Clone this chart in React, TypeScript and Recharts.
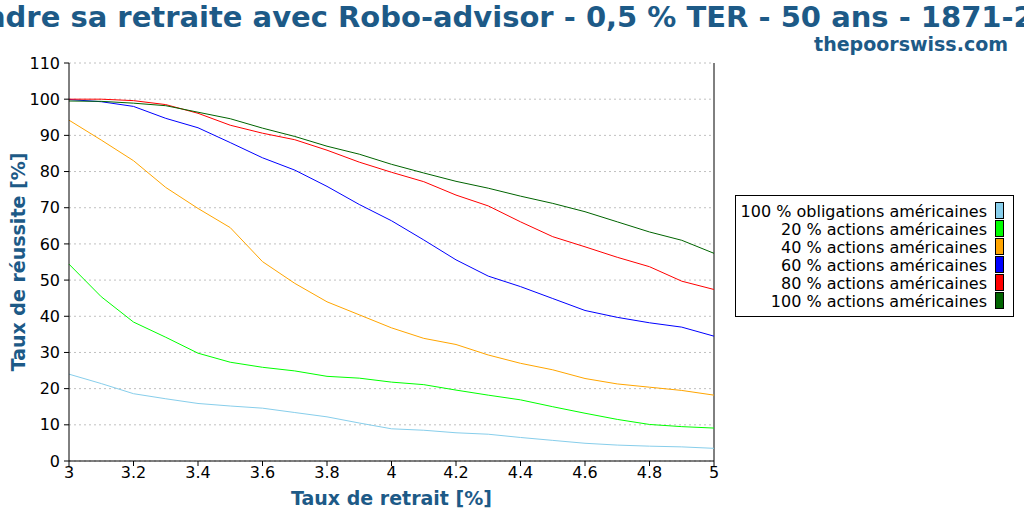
import { LineChart, Line, XAxis, YAxis, CartesianGrid, ReferenceLine } from 'recharts'

// Taux de retrait (%)
const tauxRetrait = [3, 3.1, 3.2, 3.3, 3.4, 3.5, 3.6, 3.7, 3.8, 3.9, 4, 4.1, 4.2, 4.3, 4.4, 4.5, 4.6, 4.7, 4.8, 4.9, 5]

// Taux de réussite (%) par allocation
const obligations100 = [24.0, 21.4, 18.6, 17.2, 15.9, 15.2, 14.6, 13.4, 12.2, 10.5, 8.9, 8.5, 7.8, 7.4, 6.5, 5.7, 4.9, 4.4, 4.1, 3.9, 3.5]
const actions20 = [54.4, 45.4, 38.4, 34.2, 29.8, 27.3, 25.9, 24.9, 23.4, 22.9, 21.8, 21.1, 19.6, 18.2, 16.9, 15.0, 13.2, 11.5, 10.1, 9.5, 9.1]
const actions40 = [94.2, 88.7, 83.0, 75.6, 69.8, 64.5, 55.1, 49.1, 44.0, 40.4, 36.8, 33.9, 32.2, 29.3, 27.0, 25.2, 22.8, 21.3, 20.4, 19.5, 18.2]
const actions60 = [99.9, 99.3, 98.0, 94.7, 92.1, 88.0, 83.8, 80.4, 75.9, 70.9, 66.4, 61.1, 55.6, 51.1, 48.2, 44.9, 41.6, 39.7, 38.2, 37.0, 34.5]
const actions80 = [100, 100, 99.6, 98.5, 96.1, 92.8, 90.6, 88.8, 85.9, 82.6, 79.8, 77.2, 73.5, 70.5, 66.1, 62.0, 59.2, 56.3, 53.7, 49.7, 47.4]
const actions100 = [99.5, 99.4, 98.9, 98.2, 96.4, 94.6, 92.0, 89.7, 87.0, 84.8, 82.0, 79.6, 77.3, 75.4, 73.2, 71.2, 68.9, 66.1, 63.3, 61.0, 57.4]

const xTicks = [3, 3.2, 3.4, 3.6, 3.8, 4, 4.2, 4.4, 4.6, 4.8, 5]
const yTicks = [0, 10, 20, 30, 40, 50, 60, 70, 80, 90, 100, 110]

const series = [
  { key: 'obl100', label: '100 % obligations américaines', color: '#87CEEB', values: obligations100 },
  { key: 'act20', label: '20 % actions américaines', color: '#00FF00', values: actions20 },
  { key: 'act40', label: '40 % actions américaines', color: '#FFA500', values: actions40 },
  { key: 'act60', label: '60 % actions américaines', color: '#0000FF', values: actions60 },
  { key: 'act80', label: '80 % actions américaines', color: '#FF0000', values: actions80 },
  { key: 'act100', label: '100 % actions américaines', color: '#006400', values: actions100 },
]

const data = tauxRetrait.map((x, i) => {
  const row: Record<string, number> = { x }
  series.forEach(s => { row[s.key] = s.values[i] })
  return row
})

const BLEU = '#1d5a87'
const FONT = '"DejaVu Sans", sans-serif'

export default function App() {
  return (
    <div style={{ position: 'absolute', left: 0, top: 0, width: 1024, height: 512, overflow: 'hidden', background: '#fff', fontFamily: FONT }}>
      <LineChart width={1024} height={512} data={data} margin={{ top: 63, right: 310, bottom: 0, left: 0 }} style={{ fontFamily: FONT }}>
        <CartesianGrid vertical={false} stroke="#c0c0c0" strokeDasharray="2 3" />
        <XAxis
          dataKey="x"
          type="number"
          domain={[3, 5]}
          ticks={xTicks}
          height={51}
          tickSize={5}
          tickMargin={1}
          stroke="#000"
          tick={{ fill: '#000', fontSize: 16 }}
          label={{ value: 'Taux de retrait [%]', position: 'insideBottom', offset: 7, fill: BLEU, fontSize: 19, fontWeight: 'bold' }}
        />
        <YAxis
          domain={[0, 110]}
          ticks={yTicks}
          width={69}
          tickSize={5}
          tickMargin={4}
          stroke="#000"
          tick={{ fill: '#000', fontSize: 16 }}
          label={{ value: 'Taux de réussite [%]', angle: -90, position: 'insideLeft', offset: 18, fill: BLEU, fontSize: 19, fontWeight: 'bold', style: { textAnchor: 'middle' } }}
        />
        <ReferenceLine x={5} stroke="#000" />
        {series.map(s => (
          <Line key={s.key} dataKey={s.key} stroke={s.color} strokeWidth={1} dot={false} type="linear" isAnimationActive={false} />
        ))}
      </LineChart>
      <svg width={1024} height={512} style={{ position: 'absolute', left: 0, top: 0, pointerEvents: 'none' }}>
        <text x={512} y={27} textAnchor="middle" fill={BLEU} fontSize={29} fontWeight="bold" fontFamily={FONT}>
          Prendre sa retraite avec Robo-advisor - 0,5 % TER - 50 ans - 1871-2020
        </text>
        <text x={1008} y={51} textAnchor="end" fill={BLEU} fontSize={19} fontWeight="bold" fontFamily={FONT}>
          thepoorswiss.com
        </text>
        <rect x={735.5} y={195.5} width={278} height={121} fill="#fff" stroke="#000" />
        {series.map((s, i) => (
          <g key={s.key}>
            <text x={987} y={217 + 18 * i} textAnchor="end" fill="#000" fontSize={16} fontFamily={FONT}>{s.label}</text>
            <rect x={995.5} y={202.5 + 18 * i} width={8} height={16} fill={s.color} stroke="#000" />
          </g>
        ))}
      </svg>
    </div>
  )
}
